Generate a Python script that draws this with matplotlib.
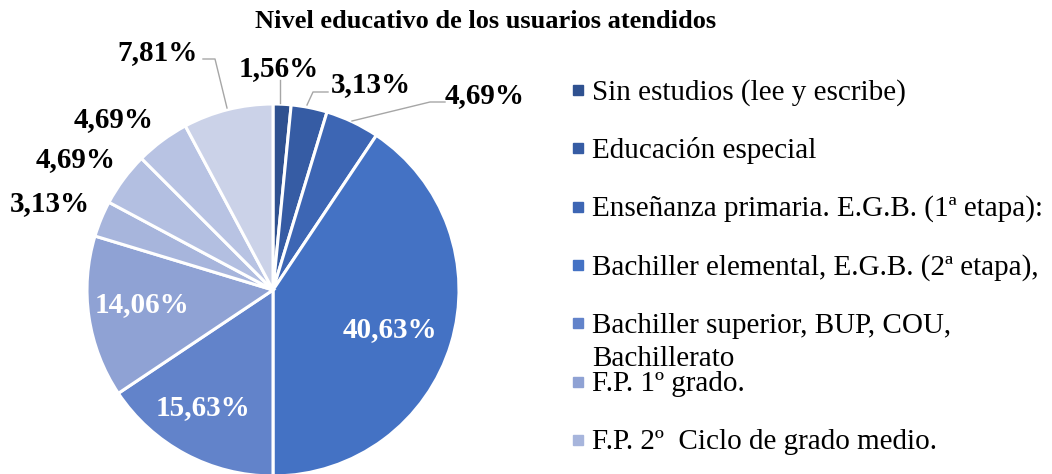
import matplotlib
matplotlib.use("Agg")
import matplotlib.pyplot as plt
from matplotlib.patches import Rectangle

plt.rcParams['font.family'] = ['Liberation Serif', 'DejaVu Serif']

# data
valores = [1.56, 3.13, 4.69, 40.63, 15.63, 14.06, 3.13, 4.69, 4.69, 7.81]
etiquetas = ["1,56%", "3,13%", "4,69%", "40,63%", "15,63%", "14,06%",
             "3,13%", "4,69%", "4,69%", "7,81%"]
categorias = ["Sin estudios (lee y escribe)",
              "Educación especial",
              "Enseñanza primaria. E.G.B. (1ª etapa):",
              "Bachiller elemental, E.G.B. (2ª etapa),",
              "Bachiller superior, BUP, COU,\nBachillerato",
              "F.P. 1º grado.",
              "F.P. 2º  Ciclo de grado medio."]
colores = ["#2F5190", "#365CA4", "#3D66B4", "#4472C4", "#6283CA",
           "#8FA2D4", "#A7B5DC", "#B3BFE1", "#B8C3E3", "#CBD2E8"]

W, H = 1052, 474
cx, cy, R = 273, 290, 186

fig = plt.figure(figsize=(W / 100, H / 100), dpi=100)
ax = fig.add_axes([0, 0, 1, 1])
ax.set_xlim(-cx / R, (W - cx) / R)
ax.set_ylim((cy - H) / R, cy / R)
ax.set_aspect('equal')

ax.pie(valores, colors=colores, startangle=90, counterclock=False,
       radius=1, center=(0, 0), frame=True,
       wedgeprops=dict(edgecolor='white', linewidth=2.2))
ax.axis('off')


def p(x, y):
    # pixel -> data
    return ((x - cx) / R, (cy - y) / R)


# label positions in pixels (x, y, color)
pos = [(279, 69, 'k'), (371, 85, 'k'), (485, 96, 'k'), (390, 330, 'w'),
       (203, 408, 'w'), (142, 305, 'w'), (50, 204, 'k'), (76, 160, 'k'),
       (114, 120, 'k'), (158, 53, 'k')]
for lab, (x, y, c) in zip(etiquetas, pos):
    ax.text(*p(x, y), lab, ha='center', va='center', fontsize=21,
            fontweight='bold', color=c)

# leader lines
lideres = [[(203, 59), (215, 59), (227, 108)],
           [(280, 80), (280, 103)],
           [(328, 92), (313, 92), (307, 105)],
           [(445, 102), (430, 102), (352, 121)]]
for pts in lideres:
    xs = [p(a, b)[0] for a, b in pts]
    ys = [p(a, b)[1] for a, b in pts]
    ax.plot(xs, ys, color='#A6A6A6', lw=1)

# title
fig.text(486 / W, 1 - 21 / H, "Nivel educativo de los usuarios atendidos",
         ha='center', va='center', fontsize=19, fontweight='bold')

# legend
for i, cat in enumerate(categorias):
    yc = 90 + i * 58.3
    fig.patches.append(Rectangle((573 / W, 1 - (yc + 5) / H), 10 / W, 10 / H,
                                 transform=fig.transFigure, color=colores[i]))
    lineas = cat.split("\n")
    for j, ln in enumerate(lineas):
        fig.text(592 / W, 1 - (yc + 9.5 + j * 33) / H, ln, ha='left',
                 va='baseline', fontsize=21)

fig.savefig("out.png", dpi=100)
